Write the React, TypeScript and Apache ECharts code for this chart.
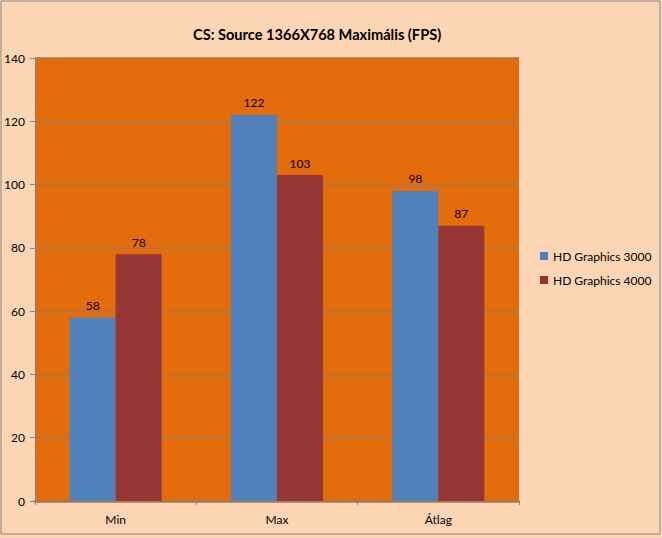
import React, { useEffect, useRef } from "react";
import * as echarts from "echarts";

const categories = ["Min", "Max", "Átlag"];
const hd3000 = [58, 122, 98];
const hd4000 = [78, 103, 87];
const seriesNames = ["HD Graphics 3000", "HD Graphics 4000"];
const titleText = "CS: Source 1366X768 Maximális (FPS)";

const FONT = "Lato, 'Open Sans', sans-serif";

export default function App() {
  const ref = useRef<HTMLDivElement>(null);
  useEffect(() => {
    if (!ref.current) return;
    const chart = echarts.init(ref.current, undefined, { renderer: "svg" });
    chart.setOption({
      animation: false,
      backgroundColor: "#FCD5B5",
      textStyle: { fontFamily: FONT },
      title: {
        text: titleText,
        left: 188,
        top: 22,
        textStyle: { fontSize: 14.6, fontWeight: "bold", color: "#000", fontFamily: FONT },
      },
      graphic: [
        {
          type: "rect",
          shape: { x: 1, y: 1, width: 659, height: 533 },
          style: { fill: "none", stroke: "#868686", lineWidth: 1 },
          silent: true,
        },
      ],
      legend: {
        orient: "vertical",
        left: 535,
        top: 245,
        itemWidth: 8,
        itemHeight: 8,
        itemGap: 12,
        icon: "rect",
        textStyle: { fontSize: 12, color: "#000", fontFamily: FONT },
        data: seriesNames,
      },
      grid: {
        left: 35,
        right: 143,
        top: 58,
        bottom: 37,
        show: true,
        backgroundColor: "#E46C0A",
        borderWidth: 0,
      },
      xAxis: {
        type: "category",
        data: categories,
        axisLine: { show: true, lineStyle: { color: "#A57A4F", width: 2.5 } },
        axisTick: { show: true, alignWithLabel: false, length: 4, lineStyle: { color: "#868686" } },
        axisLabel: { fontSize: 12, color: "#000", margin: 12, fontFamily: FONT },
      },
      yAxis: {
        type: "value",
        min: 0,
        max: 140,
        interval: 20,
        axisLine: { show: true, lineStyle: { color: "#868686" } },
        axisTick: { show: true, length: 5, lineStyle: { color: "#868686" } },
        axisLabel: { fontSize: 12, color: "#000", margin: 10, fontFamily: FONT },
        splitLine: { show: true, lineStyle: { color: "#A57A4F", width: 1.5 } },
      },
      series: [
        {
          name: seriesNames[0],
          type: "bar",
          data: hd3000,
          barGap: "0%",
          barCategoryGap: "43%",
          itemStyle: { color: "#4F81BD" },
          label: { show: true, position: "top", distance: 6, fontSize: 12, color: "#000", fontFamily: FONT },
        },
        {
          name: seriesNames[1],
          type: "bar",
          data: hd4000,
          barGap: "0%",
          barCategoryGap: "43%",
          itemStyle: { color: "#953735" },
          label: { show: true, position: "top", distance: 6, fontSize: 12, color: "#000", fontFamily: FONT },
        },
      ],
    });
    return () => chart.dispose();
  }, []);
  return (
    <div
      ref={ref}
      style={{ position: "absolute", left: 0, top: 0, width: 662, height: 538 }}
    />
  );
}
